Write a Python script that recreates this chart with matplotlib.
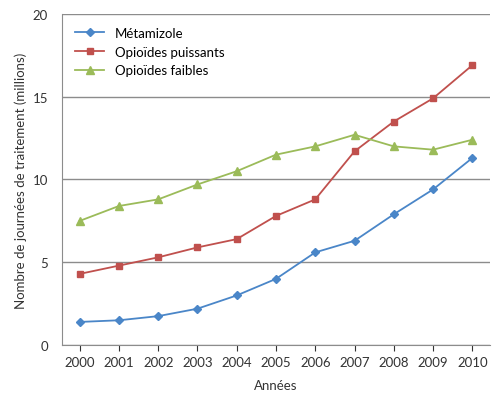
import matplotlib as mpl

mpl.use("Agg")

import matplotlib.pyplot as plt

plt.rcParams["font.family"] = ["Lato", "DejaVu Sans"]

years = list(range(2000, 2011))
metamizole = [1.4, 1.5, 1.75, 2.2, 3.0, 4.0, 5.6, 6.3, 7.9, 9.4, 11.3]
opioides_puissants = [4.3, 4.8, 5.3, 5.9, 6.4, 7.8, 8.8, 11.7, 13.5, 14.9, 16.9]
opioides_faibles = [7.5, 8.4, 8.8, 9.7, 10.5, 11.5, 12.0, 12.7, 12.0, 11.8, 12.4]

fig = plt.figure(figsize=(5.0, 4.02), dpi=100)
ax = fig.add_axes([0.124, 0.139, 0.856, 0.824])

ax.plot(years, metamizole, color="#4a86c8", marker="D", markersize=4, linewidth=1.3, label="Métamizole")
ax.plot(years, opioides_puissants, color="#c0504d", marker="s", markersize=5, linewidth=1.3, label="Opioïdes puissants")
ax.plot(years, opioides_faibles, color="#9bbb59", marker="^", markersize=6, linewidth=1.3, label="Opioïdes faibles")

ax.set_xlim(1999.55, 2010.45)
ax.set_ylim(0, 20)
ax.set_xticks(years)
ax.set_yticks([0, 5, 10, 15, 20])
ax.grid(axis="y", color="#8c8c8c", linewidth=1.0)
ax.set_axisbelow(True)
for side in ["top", "right"]:
    ax.spines[side].set_visible(False)
ax.spines["left"].set_color("#8c8c8c")
ax.spines["bottom"].set_color("#8c8c8c")
ax.tick_params(colors="#333333", labelsize=9.5, length=4)
ax.tick_params(axis="y", length=0, pad=10)
ax.set_xlabel("Années", fontsize=9.5, color="#333333", labelpad=8)
ax.set_ylabel("Nombre de journées de traitement (millions)", fontsize=9.5, color="#333333")
ax.legend(loc="upper left", frameon=False, fontsize=9.5, borderaxespad=0.6, handlelength=2.2)

fig.savefig("out.png", dpi=100)
